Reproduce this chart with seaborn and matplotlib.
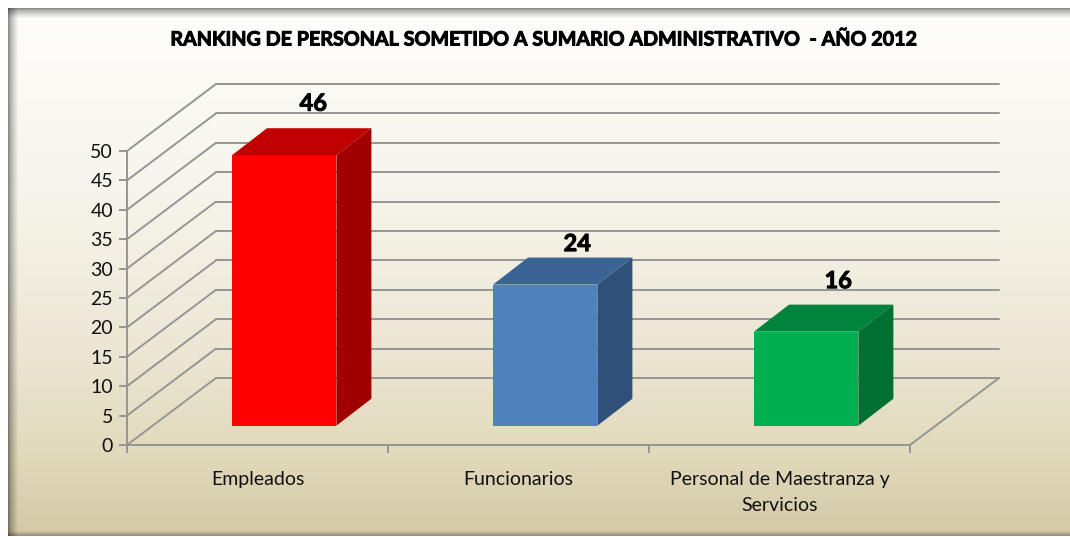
import numpy as np
import seaborn as sns
import matplotlib.pyplot as plt
import matplotlib.patheffects as pe
from matplotlib.patches import Polygon
from matplotlib.transforms import Affine2D, IdentityTransform

categories = ['Empleados', 'Funcionarios', 'Personal de Maestranza y\nServicios']
values = [46, 24, 16]
y_ticks = [0, 5, 10, 15, 20, 25, 30, 35, 40, 45, 50]
title = 'RANKING DE PERSONAL SOMETIDO A SUMARIO ADMINISTRATIVO  - AÑO 2012'

front_colors = ['#FF0000', '#4F81BD', '#00B050']
top_colors = ['#C00000', '#3B6495', '#00843C']
side_colors = ['#A00000', '#2F5079', '#006F32']

W, H = 1070, 537
grid_color = '#959595'

sns.set_theme(style='white')
plt.rcParams['font.family'] = ['Lato', 'DejaVu Sans']

fig = plt.figure(figsize=(W / 100, H / 100), dpi=100)

# fondo con degradado y sombra interior
bg = fig.add_axes([0, 0, 1, 1], zorder=0)
rows = np.arange(H)
stops = [0, 60, 200, 350, 450, 537]
rgb = [np.interp(rows, stops, c) for c in ([254, 252, 246, 236, 225, 212],
                                           [254, 251, 244, 230, 218, 201],
                                           [252, 247, 234, 212, 188, 166])]
img = np.ones((H, W, 3))
for i in range(3):
    img[:, :, i] = rgb[i][:, None] / 255
xs = np.arange(W)[None, :]
ys = rows[:, None]
shade = np.clip((xs - 8) / 10, 0, 1) ** 0.7 * 0.45 + 0.55
shade = shade * (np.clip((ys - 8) / 10, 0, 1) ** 0.7 * 0.45 + 0.55)
shade = shade * (np.clip((536 - ys) / 6, 0, 1) ** 0.7 * 0.4 + 0.6)
img = img * shade[:, :, None]
img[:8, :] = 1
img[:, :8] = 1
img[536:, :] = 1
bg.imshow(img, aspect='auto')
bg.axis('off')

# plano frontal del grafico: x 127..910, y 445..151
ax = fig.add_axes([127 / W, 1 - 445 / H, 783 / W, 294 / H], zorder=1)
ax.patch.set_alpha(0)

sns.barplot(x=categories, y=values, hue=categories, palette=front_colors,
            saturation=1, width=0.4, legend=False, ax=ax, zorder=3,
            edgecolor='none', linewidth=0)

ax.set_xlim(-0.5, 2.5)
ax.set_ylim(0, 50)
ax.set_yticks(y_ticks)
ax.set_xticks([-0.5, 0.5, 1.5, 2.5], minor=True)
ax.tick_params(axis='x', which='major', length=0, pad=19, labelsize=14, labelcolor='#111111')
ax.tick_params(axis='x', which='minor', bottom=True, length=6, width=1.4, color=grid_color)
ax.tick_params(axis='y', left=True, length=6, width=1.4, color=grid_color, pad=4,
               labelsize=14, labelcolor='#111111')
for lab in ax.get_xticklabels():
    lab.set_linespacing(1.65)
for name in ['top', 'right']:
    ax.spines[name].set_visible(False)
for name in ['left', 'bottom']:
    ax.spines[name].set_color(grid_color)
    ax.spines[name].set_linewidth(1.4)

# profundidad de la pared del fondo y de las barras, en pixeles
wall_dx, wall_dy = 89, 67
bar_shift = Affine2D().translate(26.7, 19.3)
bar_dx, bar_dy = 35, 27

wall = ax.transData + Affine2D().translate(wall_dx, wall_dy)
for t in y_ticks:
    ax.plot([-0.5, 2.5], [t, t], transform=wall, color=grid_color, lw=1.4, zorder=1, clip_on=False)
    x0, y0 = ax.transData.transform((-0.5, t))
    ax.plot([x0, x0 + wall_dx], [y0, y0 + wall_dy], transform=IdentityTransform(),
            color=grid_color, lw=1.4, zorder=1, clip_on=False)
x0, y0 = ax.transData.transform((2.5, 0))
ax.plot([x0, x0 + wall_dx], [y0, y0 + wall_dy], transform=IdentityTransform(),
        color=grid_color, lw=1.4, zorder=1, clip_on=False)

# la negrita de Lato queda fina, se refuerza con un trazo
heavy = [pe.withStroke(linewidth=0.7, foreground='black')]

# caras superior y lateral de cada barra
label_nudge = [(29, 52), (32, 41), (32, 51)]
for i, bar in enumerate(ax.patches[:len(values)]):
    bar.set_transform(ax.transData + bar_shift)
    bar.set_clip_on(False)
    (l, b), (r, t) = (ax.transData + bar_shift).transform(
        [(bar.get_x(), 0), (bar.get_x() + bar.get_width(), bar.get_height())])
    top = [(l, t), (r, t), (r + bar_dx, t + bar_dy), (l + bar_dx, t + bar_dy)]
    side = [(r, b), (r + bar_dx, b + bar_dy), (r + bar_dx, t + bar_dy), (r, t)]
    ax.add_patch(Polygon(top, closed=True, transform=IdentityTransform(), fc=top_colors[i],
                         ec='none', zorder=3, clip_on=False))
    ax.add_patch(Polygon(side, closed=True, transform=IdentityTransform(), fc=side_colors[i],
                         ec='none', zorder=3, clip_on=False))
    ax.text((l + r) / 2 + label_nudge[i][0], t + label_nudge[i][1], str(values[i]),
            transform=IdentityTransform(), ha='center', va='center', fontsize=17,
            fontweight='bold', color='black', zorder=4, path_effects=heavy)

fig.text(545 / W, 1 - 39.5 / H, title, ha='center', va='center', fontsize=14.2,
         fontweight='bold', color='black', zorder=5, path_effects=heavy)

fig.savefig('out.png', dpi=100)
